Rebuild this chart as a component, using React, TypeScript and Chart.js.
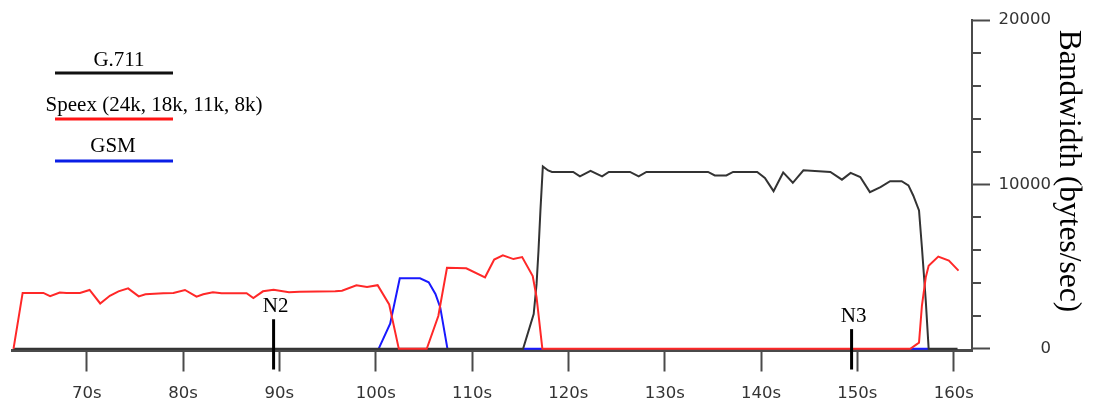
import React, { useEffect, useRef } from 'react';
import { Chart, registerables } from 'chart.js';

Chart.register(...registerables);

// ---- data ----
const seriesNames = ['G.711', 'Speex (24k, 18k, 11k, 8k)', 'GSM'];

const g711Times = [62.4, 115.3, 116.4, 116.7, 116.9, 117.1, 117.35, 117.9, 118.3, 119.1, 120.5, 121.2, 122.3, 123.5, 124.2, 126.4, 127.3, 128.1, 134.5, 135.2, 136.4, 137.1, 139.6, 140.4, 141.3, 142.3, 143.3, 144.4, 147.2, 148.4, 149.3, 150.3, 151.3, 152.4, 153.4, 154.6, 155.3, 155.8, 156.4, 156.7, 157.1, 157.4, 160.4];
const g711Values = [0, 0, 2110, 3950, 5980, 8420, 11100, 10850, 10760, 10760, 10760, 10490, 10820, 10490, 10760, 10760, 10490, 10760, 10760, 10550, 10550, 10760, 10760, 10400, 9590, 10730, 10100, 10860, 10760, 10290, 10700, 10450, 9530, 9840, 10200, 10200, 9940, 9330, 8420, 6180, 2930, 0, 0];

const speexTimes = [62.4, 63.35, 65.5, 66.2, 67.2, 67.9, 69.3, 70.3, 71.4, 72.4, 73.3, 74.3, 75.4, 76.1, 77.95, 79.0, 80.2, 81.4, 82.1, 83.1, 84.0, 86.6, 87.3, 88.3, 89.4, 91.0, 92.1, 95.8, 96.5, 98.0, 99.1, 100.2, 101.4, 102.4, 105.3, 106.5, 107.4, 109.4, 111.35, 112.3, 113.2, 114.3, 115.2, 116.3, 116.7, 117.3, 155.5, 156.4, 156.7, 157.1, 157.4, 158.4, 159.5, 160.5];
const speexValues = [0, 3400, 3400, 3200, 3430, 3400, 3400, 3580, 2760, 3230, 3500, 3680, 3190, 3320, 3380, 3400, 3580, 3170, 3320, 3440, 3380, 3380, 3090, 3500, 3600, 3450, 3480, 3500, 3540, 3870, 3760, 3870, 2700, 0, 0, 2000, 4930, 4900, 4350, 5430, 5690, 5460, 5580, 4430, 3130, 0, 0, 380, 2620, 4350, 5060, 5610, 5370, 4760];

const gsmTimes = [100.3, 101.5, 102.5, 104.6, 105.5, 106.2, 106.7, 107.45, 111.0, 115.3, 117.3, 136.0, 155.5, 157.4];
const gsmValues = [0, 1530, 4290, 4290, 4050, 3340, 2520, 0, null, 0, 0, null, 0, 0];

const xTickValues = [70, 80, 90, 100, 110, 120, 130, 140, 150, 160];
const yTickValues = [0, 2000, 4000, 6000, 8000, 10000, 12000, 14000, 16000, 18000, 20000];
const yLabelValues = [0, 10000, 20000];
const yAxisTitle = 'Bandwidth (bytes/sec)';

const markerNames = ['N2', 'N3'];
const markerTimes = [89.4, 149.4];
const markerHeights = [1800, 1200];

// ---- styling ----
const seriesColors = ['#333333', 'rgb(255,40,40)', 'rgb(25,25,255)'];
const legendColors = ['#111111', 'rgb(255,20,20)', 'rgb(10,30,230)'];
const axisColor = '#4a4a4a';
const tickFont = { family: '"DejaVu Sans", Verdana, sans-serif', size: 16.5 };
const legendLayout = { x1: 55, x2: 173, lineYs: [73, 119, 161], textXs: [119, 154, 113], textYs: [60, 105, 146] };

const toPoints = (ts: number[], vs: (number | null)[]) => ts.map((t, i) => ({ x: t, y: vs[i] }));

const decorPlugin = {
  id: 'decor',
  afterDraw(chart: any) {
    const { ctx, chartArea, scales } = chart;
    const xs = scales.x;
    const ys = scales.y;
    ctx.save();
    // minor ticks on right axis
    ctx.strokeStyle = axisColor;
    ctx.lineWidth = 2;
    ys.ticks.forEach((t: any) => {
      if (yLabelValues.includes(t.value)) return;
      const py = Math.round(ys.getPixelForValue(t.value));
      ctx.beginPath();
      ctx.moveTo(chartArea.right, py);
      ctx.lineTo(chartArea.right + 9, py);
      ctx.stroke();
    });
    // markers
    ctx.strokeStyle = '#000';
    ctx.fillStyle = '#000';
    ctx.lineWidth = 3;
    ctx.font = '21px "Liberation Serif", "Times New Roman", serif';
    ctx.textAlign = 'center';
    ctx.textBaseline = 'alphabetic';
    markerNames.forEach((name, i) => {
      const px = xs.getPixelForValue(markerTimes[i]);
      const top = ys.getPixelForValue(markerHeights[i]);
      ctx.beginPath();
      ctx.moveTo(px, top);
      ctx.lineTo(px, chartArea.bottom + 19);
      ctx.stroke();
      ctx.fillText(name, px + 2, top - 7);
    });
    // legend
    ctx.font = '21px "Liberation Serif", "Times New Roman", serif';
    ctx.textBaseline = 'middle';
    seriesNames.forEach((name, i) => {
      ctx.fillStyle = '#000';
      ctx.fillText(name, legendLayout.textXs[i], legendLayout.textYs[i]);
      ctx.strokeStyle = legendColors[i];
      ctx.lineWidth = 3;
      ctx.beginPath();
      ctx.moveTo(legendLayout.x1, legendLayout.lineYs[i]);
      ctx.lineTo(legendLayout.x2, legendLayout.lineYs[i]);
      ctx.stroke();
    });
    // rotated axis title
    ctx.translate(1060, 171);
    ctx.rotate(Math.PI / 2);
    ctx.font = '31.5px "Liberation Serif", "Times New Roman", serif';
    ctx.textAlign = 'center';
    ctx.textBaseline = 'alphabetic';
    ctx.fillStyle = '#000';
    ctx.fillText(yAxisTitle, 0, 0);
    ctx.restore();
  },
};

export default function App() {
  const ref = useRef<HTMLCanvasElement | null>(null);
  useEffect(() => {
    if (!ref.current) return;
    const chart = new Chart(ref.current, {
      type: 'line',
      data: {
        datasets: [
          { label: seriesNames[0], data: toPoints(g711Times, g711Values), borderColor: seriesColors[0], borderWidth: 2, pointRadius: 0, tension: 0, order: 2 },
          { label: seriesNames[1], data: toPoints(speexTimes, speexValues), borderColor: seriesColors[1], borderWidth: 2, pointRadius: 0, tension: 0, order: 1 },
          { label: seriesNames[2], data: toPoints(gsmTimes, gsmValues), borderColor: seriesColors[2], borderWidth: 2, pointRadius: 0, tension: 0, spanGaps: false, order: 3 },
        ],
      },
      options: {
        animation: false,
        responsive: false,
        devicePixelRatio: 1,
        layout: { padding: { left: 12, top: 20, right: 42, bottom: 0 } },
        plugins: { legend: { display: false }, tooltip: { enabled: false }, title: { display: false } },
        scales: {
          x: {
            type: 'linear',
            min: 62.245,
            max: 161.9,
            afterBuildTicks: (s: any) => { s.ticks = xTickValues.map((v) => ({ value: v })); },
            afterFit: (s: any) => { s.height = 54.5; },
            grid: { drawOnChartArea: false, drawTicks: true, tickLength: 21, tickColor: axisColor, tickWidth: 2 },
            border: { display: true, color: axisColor, width: 3 },
            ticks: { color: '#333333', font: tickFont, padding: 12, maxRotation: 0, autoSkip: false, callback: (v: any) => `${v}s` },
          },
          y: {
            type: 'linear',
            position: 'right',
            min: -100,
            max: 20000,
            afterBuildTicks: (s: any) => { s.ticks = yTickValues.map((v) => ({ value: v })); },
            afterFit: (s: any) => { s.width = 79; },
            grid: {
              drawOnChartArea: false,
              drawTicks: true,
              tickLength: 18,
              tickWidth: 2,
              tickColor: (c: any) => (c.tick && yLabelValues.includes(c.tick.value) ? axisColor : 'rgba(0,0,0,0)'),
            },
            border: { display: true, color: axisColor, width: 2 },
            ticks: {
              color: '#333333',
              font: tickFont,
              padding: 7,
              crossAlign: 'far',
              autoSkip: false,
              callback: (v: any) => (yLabelValues.includes(v) ? String(v) : ''),
            },
          },
        },
      },
      plugins: [decorPlugin],
    } as any);
    return () => chart.destroy();
  }, []);
  return (
    <div style={{ position: 'fixed', left: 0, top: 0, width: 1093, height: 405, background: '#fff' }}>
      <canvas ref={ref} width={1093} height={405} style={{ display: 'block', width: 1093, height: 405 }} />
    </div>
  );
}
